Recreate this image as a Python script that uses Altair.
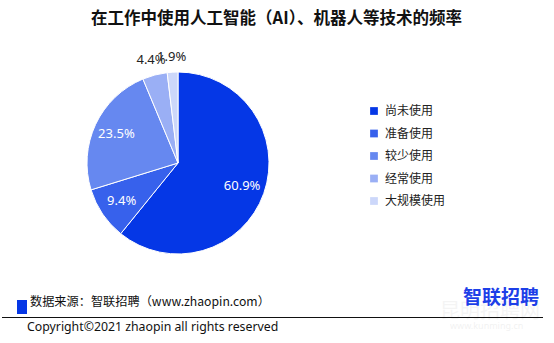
import altair as alt
import pandas as pd

categories = ["尚未使用", "准备使用", "较少使用", "经常使用", "大规模使用"]
values = [60.9, 9.4, 23.5, 4.4, 1.9]
labels = ["60.9%", "9.4%", "23.5%", "4.4%", "1.9%"]
colors = ["#0537E6", "#3761EC", "#6688F0", "#9AAFF5", "#CCD7FA"]
order_idx = [0, 1, 2, 3, 4]

title_text = "在工作中使用人工智能（AI）、机器人等技术的频率"
source_text = "数据来源：智联招聘（www.zhaopin.com）"
copyright_text = "Copyright©2021 zhaopin all rights reserved"
logo_text = "智联招聘"

df = pd.DataFrame({"cat": categories, "val": values, "label": labels, "idx": order_idx})

CJK = "Noto Sans CJK SC"
CX, CY, R = 178, 163, 91

base = alt.Chart(df).encode(
    theta=alt.Theta("val:Q", stack=True),
    order=alt.Order("idx:Q", sort="ascending"),
)

pie = base.mark_arc(outerRadius=R, stroke="white", strokeWidth=1).encode(
    x=alt.value(CX), y=alt.value(CY),
    color=alt.Color(
        "cat:N",
        scale=alt.Scale(domain=categories, range=colors),
        sort=categories,
        legend=alt.Legend(
            title=None, orient="none", legendX=368, legendY=105,
            symbolType="square", symbolSize=60, symbolStrokeWidth=0,
            labelFont=CJK, labelFontSize=12, labelColor="#222222",
            rowPadding=10.5, labelOffset=5,
        ),
    ),
)

inside = base.mark_text(radius=68, font="Noto Sans", fontSize=13, color="white").encode(
    x=alt.value(CX), y=alt.value(CY), text="lab_in:N"
).transform_calculate(lab_in="datum.val > 5 ? datum.label : ''")

outside = base.mark_text(radius=106, font="Noto Sans", fontSize=13, color="#222222").encode(
    x=alt.value(CX), y=alt.value(CY), text="lab_out:N"
).transform_calculate(lab_out="datum.val <= 5 ? datum.label : ''")

ann = alt.Chart(pd.DataFrame({"a": [0]}))

title = ann.mark_text(text=title_text, font=CJK, fontSize=16.5, fontWeight="bold",
                      color="#111111", align="center", baseline="middle").encode(
    x=alt.value(276.5), y=alt.value(19))

square = ann.mark_rect(color="#0537E6").encode(
    x=alt.value(17), x2=alt.value(27), y=alt.value(300), y2=alt.value(314))

source = ann.mark_text(text=source_text, font=CJK, fontSize=12.2, color="#111111",
                       align="left", baseline="middle").encode(
    x=alt.value(30), y=alt.value(302))

rule = ann.mark_rule(color="#111111", strokeWidth=1).encode(
    x=alt.value(2), x2=alt.value(543), y=alt.value(317.5))

copyright = ann.mark_text(text=copyright_text, font="Noto Sans", fontSize=12.3, color="#111111",
                          align="left", baseline="middle").encode(
    x=alt.value(27), y=alt.value(327))

watermark1 = ann.mark_text(text="昆明招聘网", font=CJK, fontSize=20, color="#000000", opacity=0.04,
                           align="left", baseline="middle").encode(
    x=alt.value(440), y=alt.value(312))
watermark2 = ann.mark_text(text="www.kunming.cn", font="Noto Sans", fontSize=9, color="#000000", opacity=0.05,
                           align="left", baseline="middle").encode(
    x=alt.value(450), y=alt.value(326))

logo = ann.mark_text(text=logo_text, font=CJK, fontSize=19, fontWeight="bold", color="#1D3FE8",
                     align="left", baseline="middle").encode(
    x=alt.value(463), y=alt.value(298))

chart = alt.layer(pie, inside, outside, title, square, source, rule, copyright,
                  watermark1, watermark2, logo).properties(
    width=554, height=343, padding=0, autosize=alt.AutoSizeParams(type="none"),
    background="white",
).configure_view(stroke=None)

chart.save("out.html", embed_options={"renderer": "svg", "actions": False})
